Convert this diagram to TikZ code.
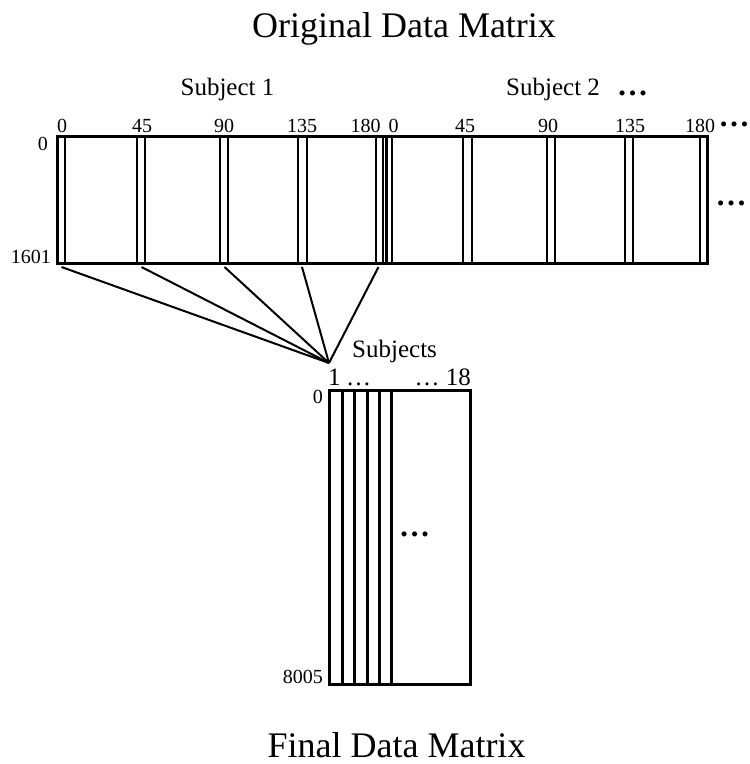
\documentclass[tikz,border=0pt]{standalone}
\usepackage{fontspec}
\setmainfont{Liberation Serif}

\begin{document}
\begin{tikzpicture}[x=1pt,y=1pt]
	\tikzstyle{every node}+=[inner sep=0pt]
	\tikzstyle{title}=[font=\fontsize{36}{40}\selectfont]
	\tikzstyle{subj}=[font=\fontsize{25}{30}\selectfont]
	\tikzstyle{more}=[font=\fontsize{31}{36}\selectfont\bfseries]
	\tikzstyle{tick}=[font=\fontsize{20}{24}\selectfont]
	\tikzstyle{thinline}=[black, line width=1.8pt]
	\tikzstyle{outline}=[black, line width=3pt]
	\tikzstyle{link}=[black, line width=2pt]
	\useasboundingbox (0,0) rectangle (750,-764);
	% titles
	\node [title, anchor=base] (orig) at (404,-37) {Original Data Matrix};
	\node [title, anchor=base] (final) at (396.5,-757) {Final Data Matrix};
	% original matrix
	\foreach \xa/\xb in {57/65, 137/145, 220/228, 298/307, 376/383, 386.5/392, 463/472, 547/555, 625/633, 700/707}
	{
		\draw [thinline] (\xa,-136.5) -- (\xa,-263);
		\draw [thinline] (\xb,-136.5) -- (\xb,-263);
	}
	\draw [outline] (57,-136.5) rectangle (707,-263);
	\draw [outline] (386.5,-136.5) -- (386.5,-263);
	\node [subj, anchor=base] (subj1) at (227.5,-95) {Subject 1};
	\node [subj, anchor=base west] (subj2) at (506,-95) {Subject 2};
	\node [more, anchor=base] (subjmore) at (632.5,-95) {…};
	\foreach \x/\t [count=\i] in {62/0, 142/45, 224/90, 302/135, 365.5/180, 393.5/0, 465/45, 548/90, 630/135, 700/180}
		\node [tick, anchor=base] (t\i) at (\x,-132) {\t};
	\node [more] (colmore) at (734,-124) {…};
	\node [more] (rowmore) at (731,-203) {…};
	\node [tick, anchor=base east] (r0) at (48,-150) {0};
	\node [tick, anchor=base east] (r1601) at (51,-263) {1601};
	% links to the final matrix
	\coordinate (hub) at (329,-363);
	\foreach \x [count=\i] in {61.5,141.5,224.5,302,378.5}
	{
		\coordinate (b\i) at (\x,-267);
		\draw [link] (b\i) -- (hub);
	}
	% final matrix
	\draw [outline] (329,-390) rectangle (470,-684);
	\foreach \x in {342,354,367,379,391}
		\draw [outline] (\x,-390) -- (\x,-684);
	\node [subj, anchor=base west] (subjs) at (352,-357) {Subjects};
	\node [subj, anchor=base west] (c1) at (328,-385) {1};
	\node [subj, anchor=base west] (cdots) at (346,-385) {…};
	\node [subj, anchor=base east] (c18) at (471,-385) {… 18};
	\node [more] (fmore) at (414.5,-534) {…};
	\node [tick, anchor=base east] (f0) at (323,-403) {0};
	\node [tick, anchor=base east] (f8005) at (323,-683) {8005};
\end{tikzpicture}
\end{document}
